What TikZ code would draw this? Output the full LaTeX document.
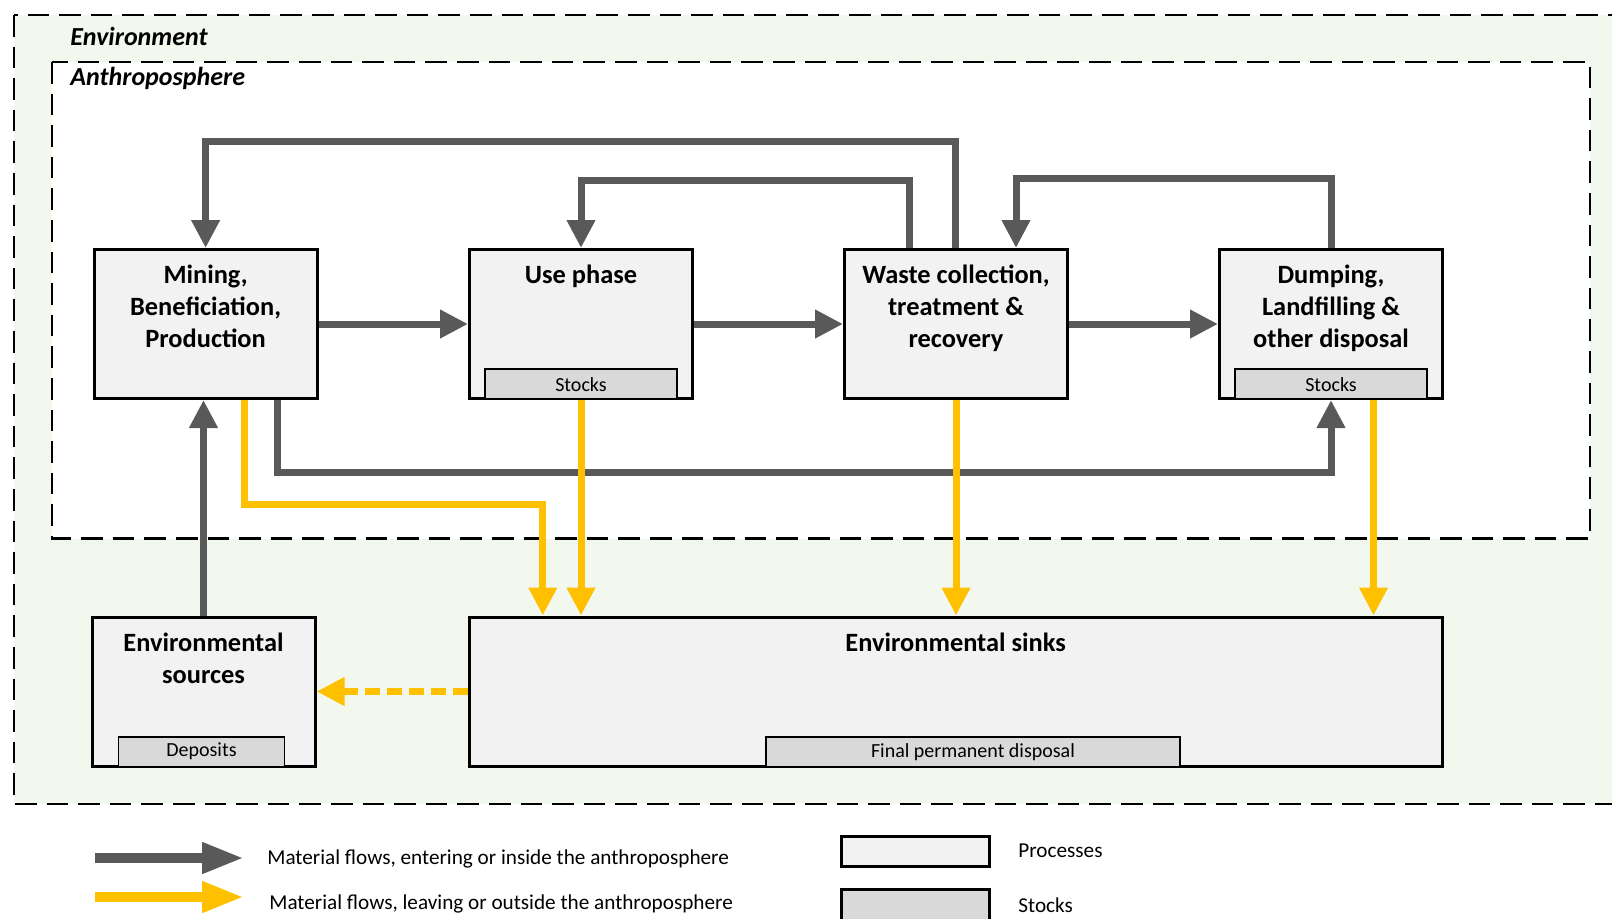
\documentclass[tikz,border=0pt]{standalone}
\usepackage{fontspec}
\setmainfont{Carlito}
\usetikzlibrary{arrows.meta}

\definecolor{flowgrey}{RGB}{89,89,89}
\definecolor{flowyellow}{RGB}{255,192,0}
\definecolor{procfill}{RGB}{242,242,242}
\definecolor{stockfill}{RGB}{217,217,217}
\definecolor{envfill}{RGB}{243,248,238}

\tikzset{
  proc/.style={draw, line width=1.5pt, fill=procfill, minimum width=111.5pt,
    minimum height=74.5pt, inner sep=0pt},
  stockbox/.style={draw, line width=0.8pt, fill=stockfill, minimum width=96pt,
    minimum height=15pt, inner sep=0pt, anchor=south, font=\fontsize{10}{12}\selectfont},
  title/.style={font=\bfseries\fontsize{13.2}{16}\selectfont, align=center,
    anchor=north, yshift=-5pt},
  zone/.style={dash pattern=on 10.8pt off 5pt, line width=1.35pt},
  zonelabel/.style={anchor=west, inner sep=0pt, font=\bfseries\itshape\fontsize{13}{15}\selectfont},
  flowin/.style={draw=flowgrey, line width=3.5pt, -{Triangle[width=13.5pt,length=14pt]}},
  flowout/.style={flowin, draw=flowyellow},
  legendtext/.style={anchor=west, inner sep=0pt, font=\fontsize{10.6}{12}\selectfont},
}

\begin{document}
\begin{tikzpicture}[x=0.5pt, y=-0.5pt]
\useasboundingbox (0,0) rectangle (1612,918);
\clip (0,0) rectangle (1612,918);

% zones
\draw[zone, fill=envfill] (14,15) rectangle (1660,804);
\draw[zone, fill=white] (52,62) rectangle (1590,538.5);
\node[zonelabel] (envlbl) at (70,36) {Environment};
\node[zonelabel] (anthlbl) at (70,78) {Anthroposphere};

% processes
\node[proc] (mine) at (205.6,324) {};
\node[title] at (mine.north) {Mining,\\Beneficiation,\\Production};
\node[proc] (use) at (581,324) {};
\node[title] at (use.north) {Use phase};
\node[stockbox] (usestock) at (use.south) {Stocks};
\node[proc] (waste) at (956,324) {};
\node[title] at (waste.north) {Waste collection,\\treatment \&\\recovery};
\node[proc] (dump) at (1331,324) {};
\node[title] at (dump.north) {Dumping,\\Landfilling \&\\other disposal};
\node[stockbox] (dumpstock) at (dump.south) {Stocks};

\node[proc] (src) at (203.5,691.5) {};
\node[title] at (src.north) {Environmental\\sources};
\node[stockbox, minimum width=83pt] (deposit) at ([xshift=-1pt]src.south) {Deposits};
\node[proc, minimum width=486.5pt] (sink) at (955.6,691.5) {};
\node[title] at (sink.north) {Environmental sinks};
\node[stockbox, minimum width=207pt] (final) at ([xshift=8.7pt]sink.south) {Final permanent disposal};

% flows inside
\draw[flowin] (mine) -- (use);
\draw[flowin] (use) -- (waste);
\draw[flowin] (waste) -- (dump);
\draw[flowin] ([xshift=-0.5pt]waste.north) -- ++(0,-107) -| (mine.north);
\draw[flowin] ([xshift=-23.5pt]waste.north) -- ++(0,-68) -| (use.north);
\draw[flowin] (dump.north) -- ++(0,-70) -| ([xshift=30pt]waste.north);
\draw[flowin] ([xshift=36pt]mine.south) -- ++(0,72) -| (dumpstock.south);
\draw[flowin] (src.north) -- (src.north |- mine.south);

% flows leaving
\draw[flowout] ([xshift=19.5pt]mine.south) -- ++(0,104) -| ([xshift=-206.4pt]sink.north);
\draw[flowout] (usestock.south) -- (usestock.south |- sink.north);
\draw[flowout] (waste.south) -- (waste.south |- sink.north);
\draw[flowout] ([xshift=21.25pt]dumpstock.south) -- ([xshift=21.25pt]dumpstock.south |- sink.north);
\draw[flowout, dash pattern=on 7.5pt off 3.5pt] (sink.west) -- (src.east);

% legend
\coordinate (k1a) at (95,858);
\coordinate (k1b) at (244,858);
\coordinate (k2a) at (95,897);
\coordinate (k2b) at (244,897);
\draw[flowin, line width=5pt, -{Triangle[width=14.5pt,length=21pt]}] (k1a) -- (k1b);
\draw[flowout, line width=5pt, -{Triangle[width=14.5pt,length=21pt]}] (k2a) -- (k2b);
\node[legendtext] (k1t) at (267,859) {Material flows, entering or inside the anthroposphere};
\node[legendtext] (k2t) at (269,904) {Material flows, leaving or outside the anthroposphere};
\node[proc, minimum width=74pt, minimum height=15pt] (kproc) at (915,851.5) {};
\node[legendtext] (kproct) at (1018,851) {Processes};
\node[proc, fill=stockfill, minimum width=74pt, minimum height=18pt] (kstock) at (915,907) {};
\node[legendtext] (kstockt) at (1018,905) {Stocks};
\end{tikzpicture}
\end{document}
